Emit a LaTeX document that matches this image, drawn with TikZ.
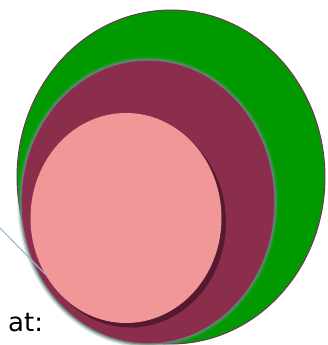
\documentclass[tikz,border=0pt]{standalone}
\usepackage{fontspec}
\newfontfamily\labelfont{DejaVu Sans}
\usetikzlibrary{
  arrows.meta,positioning,calc,
  shapes.geometric
}
\definecolor{outergreen}{HTML}{009A00}
\definecolor{rimpurple}{HTML}{7A2A5E}
\definecolor{midmaroon}{HTML}{8A2E4C}
\definecolor{glowsage}{HTML}{5E8C72}
\definecolor{innerpink}{HTML}{F19797}
\definecolor{shadowdark}{HTML}{561A30}
\definecolor{leadblue}{HTML}{9DB6DA}
\tikzset{
  blob/.style={ellipse, inner sep=0pt, outer sep=0pt},
  outerblob/.style={blob, fill=outergreen, draw=rimpurple, line width=0.9pt},
  midblob/.style={blob, fill=midmaroon, draw=midmaroon!80!magenta, line width=0.8pt},
  innerblob/.style={blob, fill=innerpink},
  lead/.style={line width=1.1pt, color=leadblue},
  tag/.style={font=\labelfont\fontsize{26}{30}\selectfont, text=black, inner sep=0pt},
}
\begin{document}
\begin{tikzpicture}[x=1pt,y=1pt]
  \useasboundingbox (0,0) rectangle (328,345);
  % outer ring
  \node[outerblob, minimum width=308, minimum height=334] (outer) at (171,168) {};
  % soft rim round the middle ring
  \foreach \w/\o in {9/0.25,6/0.45,3.5/0.8}{
    \node[blob, draw=glowsage, line width=\w, opacity=\o, minimum width=252, minimum height=282] at (148,143) {};
  }
  \node[midblob, minimum width=252, minimum height=282] (middle) at (148,143) {};
  % inner disc and its shadow
  \node[blob, fill=shadowdark, minimum width=191, minimum height=210] (shadow) at (130.5,122.5) {};
  \node[innerblob, minimum width=191, minimum height=210] (inner) at (126,127) {};
  % pointer line and label
  \coordinate (leadstart) at (0,117);
  \draw[lead] (leadstart) -- (inner.215);
  \node[tag, anchor=base west] (label) at (8,13) {at:};
\end{tikzpicture}
\end{document}
